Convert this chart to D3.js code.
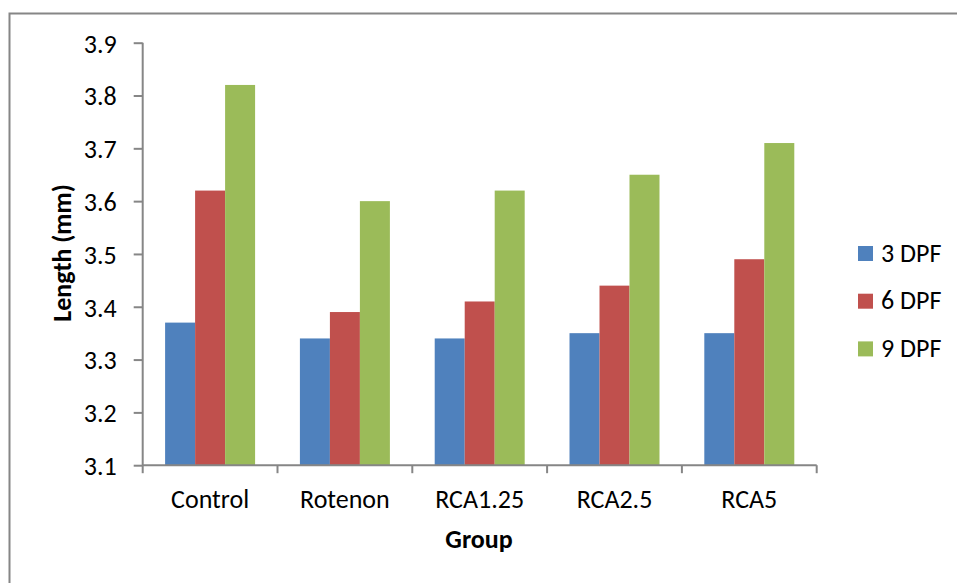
<!DOCTYPE html>
<html>
	<head>
		<title>Length by group</title>
		<style>
			body, html { margin: 0; padding: 0; background: #fff; }
			svg text { font-family: Carlito, Calibri, Lato, sans-serif; fill: #000; }
		</style>
	</head>
	<body>
		<svg id="svg" width="957" height="583"></svg>

		<script src="https://d3js.org/d3.v7.min.js"></script>
		<script>
		// Data
		const groups = ['Control', 'Rotenon', 'RCA1.25', 'RCA2.5', 'RCA5']
		const seriesNames = ['3 DPF', '6 DPF', '9 DPF']
		const dpf3 = [3.37, 3.34, 3.34, 3.35, 3.35]
		const dpf6 = [3.62, 3.39, 3.41, 3.44, 3.49]
		const dpf9 = [3.82, 3.60, 3.62, 3.65, 3.71]
		const colors = ['#4F81BD', '#C0504D', '#9BBB59']
		const yTicks = [3.1, 3.2, 3.3, 3.4, 3.5, 3.6, 3.7, 3.8, 3.9]

		const seriesValues = [dpf3, dpf6, dpf9]

		// plot box
		const plotLeft = 142.7
		const plotRight = 816.7
		const plotTop = 42.7
		const plotBottom = 465.2
		const axisColor = '#868686'
		const fontSize = 26

		const svg = d3.select('#svg')

		// outer frame (runs off right and bottom edges like the original)
		svg.append('rect')
			.attr('x', 9.5).attr('y', 13.5)
			.attr('width', 1200).attr('height', 1200)
			.attr('fill', 'none')
			.attr('stroke', axisColor)
			.attr('stroke-width', 2)

		// scales
		const xscale = d3.scaleBand()
			.domain(groups)
			.range([plotLeft, plotRight])
			.paddingInner(0).paddingOuter(0)

		const inner = d3.scaleBand()
			.domain(seriesNames)
			.range([0, xscale.bandwidth()])
			.paddingInner(0)
			.paddingOuter(0.747)

		const yscale = d3.scaleLinear()
			.domain([3.1, 3.9])
			.range([plotBottom, plotTop])

		// bars
		const graph = svg.append('g')
		groups.forEach((g, gi) => {
			seriesNames.forEach((s, si) => {
				const v = seriesValues[si][gi]
				graph.append('rect')
					.attr('x', xscale(g) + inner(s))
					.attr('y', yscale(v))
					.attr('width', inner.bandwidth())
					.attr('height', yscale(3.1) - yscale(v))
					.attr('fill', colors[si])
			})
		})

		// left axis
		const leftAxis = d3.axisLeft(yscale)
			.tickValues(yTicks)
			.tickFormat(d3.format('.1f'))
			.tickSize(9)
			.tickPadding(17)
		const ya = svg.append('g')
			.attr('transform', `translate(${plotLeft}, 0)`)
			.call(leftAxis)
		ya.select('.domain').attr('stroke', axisColor).attr('stroke-width', 2)
			.attr('d', `M0,${plotTop}V${plotBottom}`)
		ya.selectAll('.tick line').attr('stroke', axisColor).attr('stroke-width', 2)
		ya.selectAll('.tick text')
			.attr('font-size', fontSize)
			.attr('font-family', 'Carlito, Calibri, Lato, sans-serif')
			.attr('dy', '0.36em')
			.attr('fill', '#000')

		// bottom axis: ticks sit between categories
		const xa = svg.append('g')
			.attr('transform', `translate(0, ${plotBottom})`)
		xa.append('path')
			.attr('d', `M${plotLeft},0H${plotRight}`)
			.attr('stroke', axisColor).attr('stroke-width', 2)
		const boundaries = groups.map(g => xscale(g)).concat([plotRight])
		xa.selectAll('line.sep')
			.data(boundaries)
			.join('line')
			.attr('class', 'sep')
			.attr('x1', d => d).attr('x2', d => d)
			.attr('y1', 0).attr('y2', 8)
			.attr('stroke', axisColor).attr('stroke-width', 2)
		xa.selectAll('text.cat')
			.data(groups)
			.join('text')
			.attr('class', 'cat')
			.attr('x', d => xscale(d) + xscale.bandwidth() / 2)
			.attr('y', 43)
			.attr('text-anchor', 'middle')
			.attr('font-size', fontSize)
			.text(d => d)

		// axis titles
		svg.append('text')
			.attr('transform', 'translate(71, 253) rotate(-90)')
			.attr('text-anchor', 'middle')
			.attr('font-size', fontSize)
			.attr('font-weight', 'bold')
			.text('Length (mm)')

		svg.append('text')
			.attr('x', 479)
			.attr('y', 548)
			.attr('text-anchor', 'middle')
			.attr('font-size', fontSize)
			.attr('font-weight', 'bold')
			.text('Group')

		// legend
		const legend = svg.append('g')
			.attr('transform', 'translate(858, 246)')
		seriesNames.forEach((s, i) => {
			const row = legend.append('g').attr('transform', `translate(0, ${i * 47.7})`)
			row.append('rect')
				.attr('width', 15).attr('height', 15)
				.attr('fill', colors[i])
			row.append('text')
				.attr('x', 23)
				.attr('y', 15.5)
				.attr('font-size', fontSize)
				.text(s)
		})
		</script>
	</body>
</html>
